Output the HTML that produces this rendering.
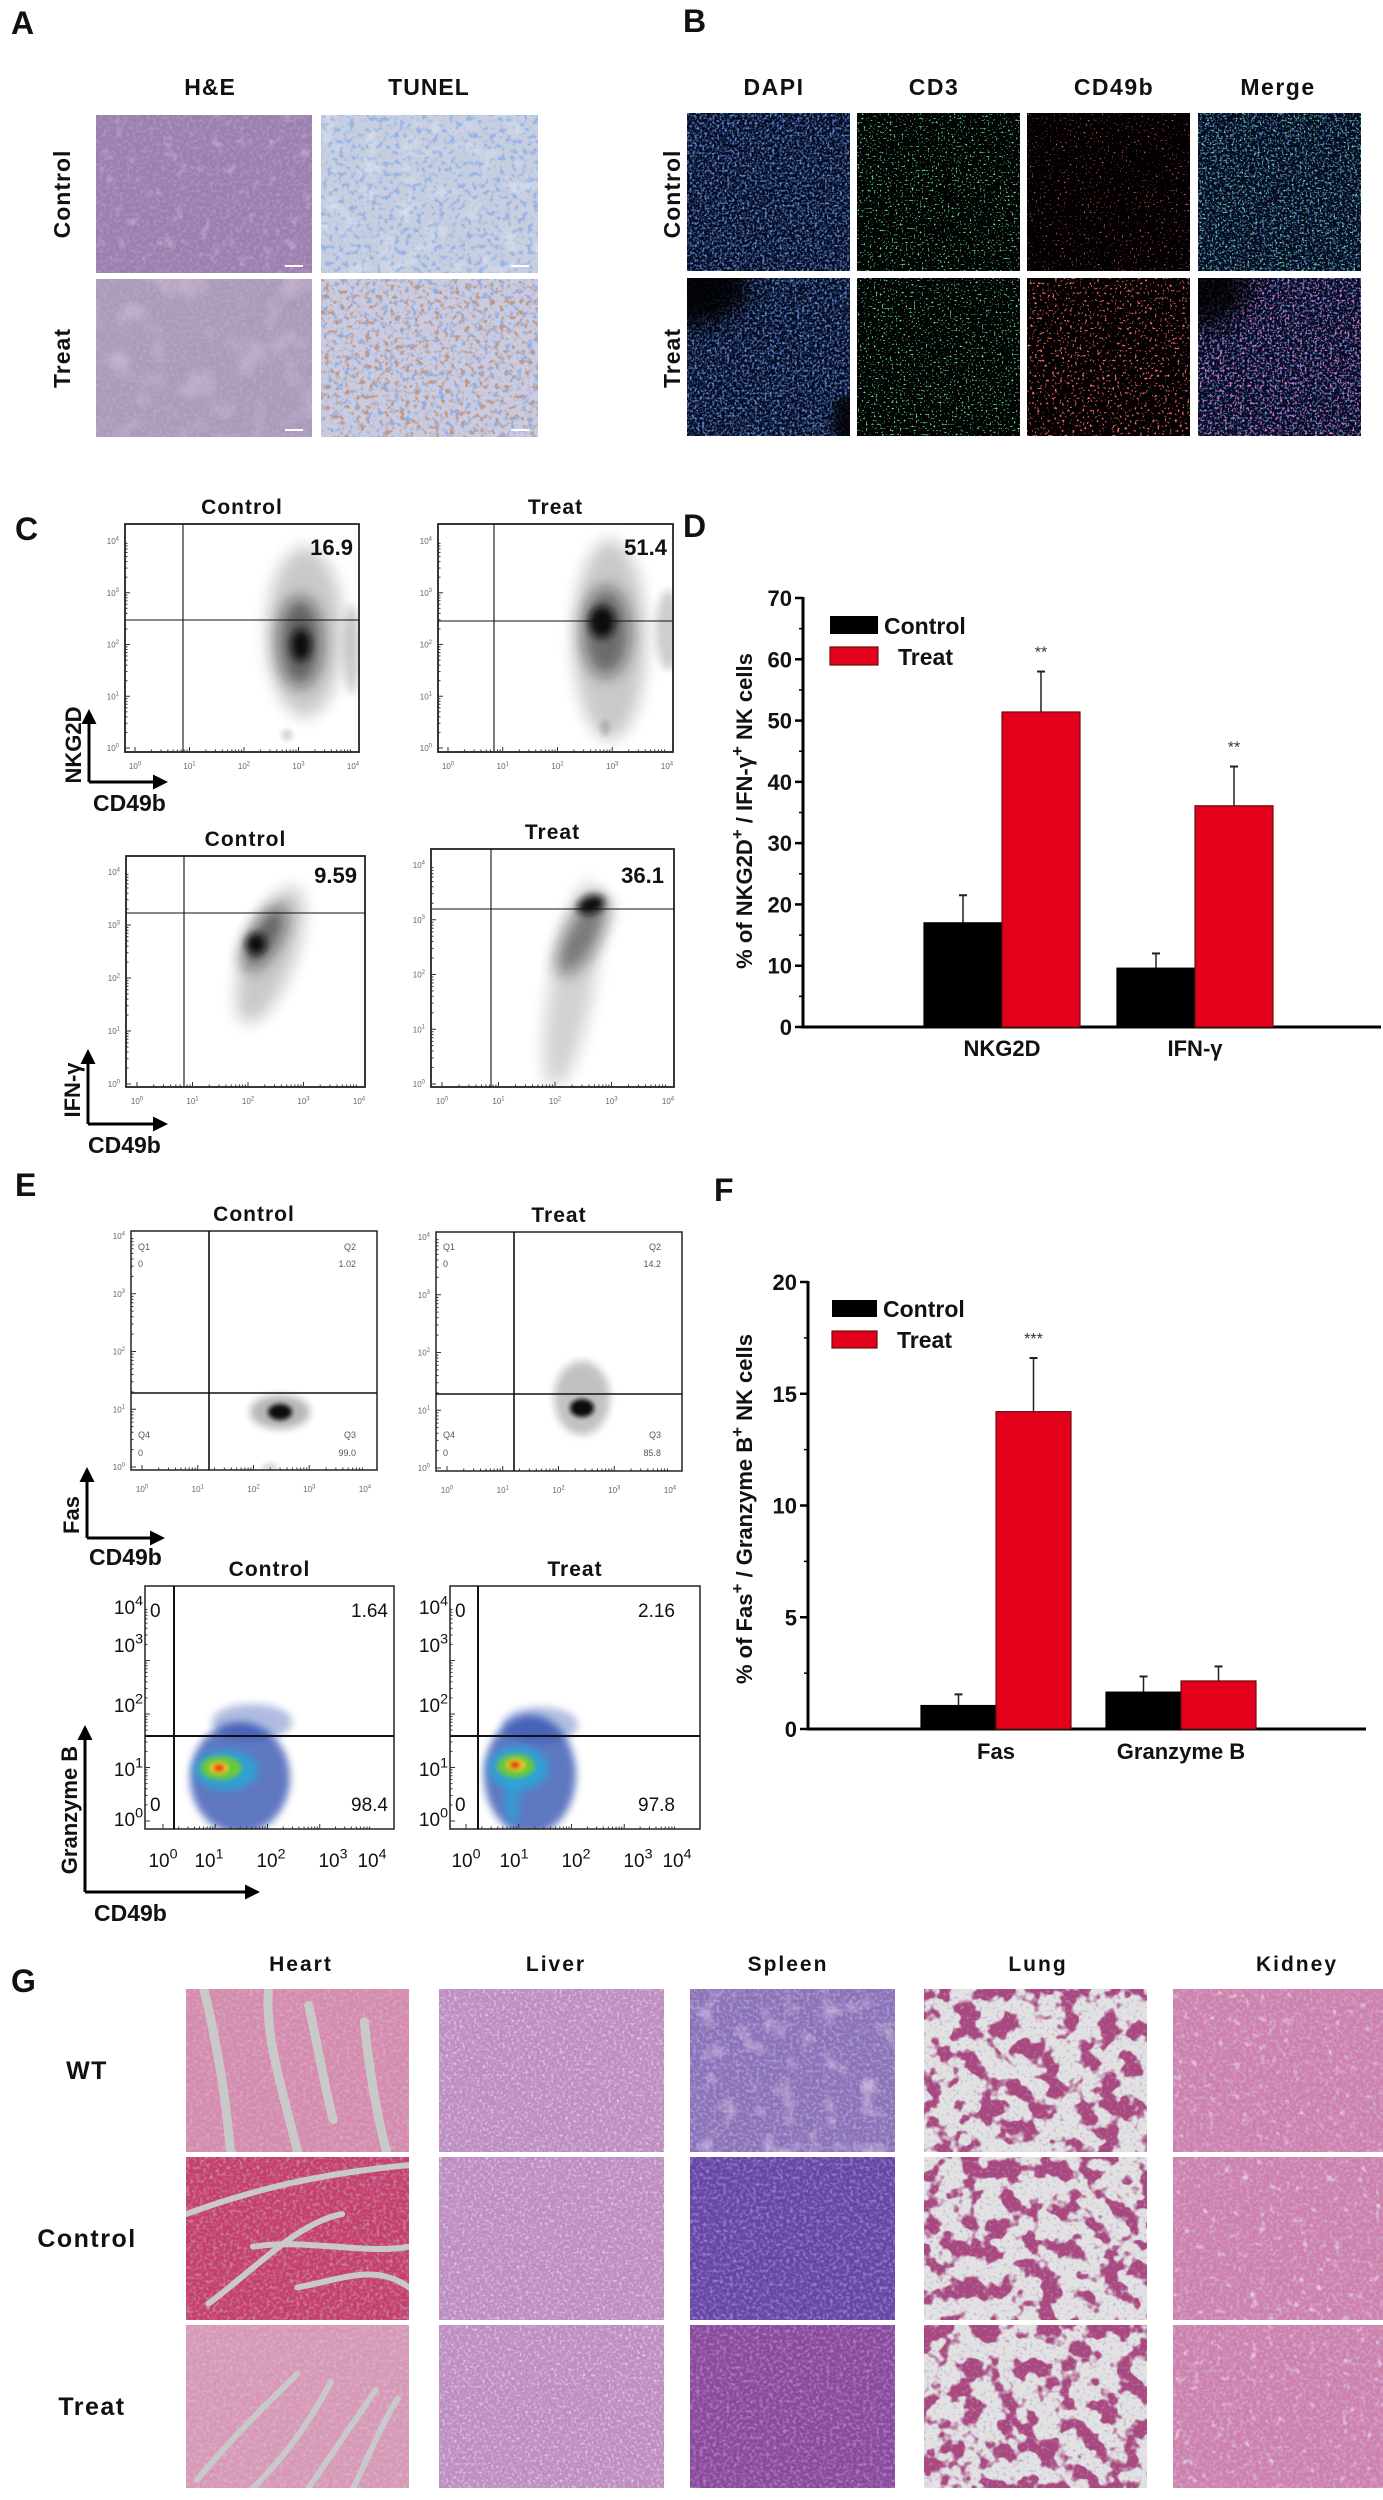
<!DOCTYPE html>
<html><head><meta charset="utf-8">
<style>
body{margin:0;background:#fff}
svg{display:block}
text{font-family:"Liberation Sans",Arial,sans-serif}
</style></head>
<body>
<svg id="fig" width="1383" height="2500" viewBox="0 0 1383 2500" xmlns="http://www.w3.org/2000/svg">
<defs id="defs">
<marker id="arr" viewBox="0 0 10 10" refX="8" refY="5" markerWidth="5" markerHeight="5" orient="auto-start-reverse"><path d="M0,0 L10,5 L0,10 z" fill="#000"/></marker>
<filter id="b2" x="-50%" y="-50%" width="200%" height="200%"><feGaussianBlur stdDeviation="2"/></filter>
<filter id="b4" x="-50%" y="-50%" width="200%" height="200%"><feGaussianBlur stdDeviation="4"/></filter>
<filter id="b8" x="-50%" y="-50%" width="200%" height="200%"><feGaussianBlur stdDeviation="8"/></filter>
<filter id="b12" x="-60%" y="-60%" width="220%" height="220%"><feGaussianBlur stdDeviation="12"/></filter>
</defs>
</svg>
<script>
// ---------- chart data: panel D ----------
const dCategories = ["NKG2D", "IFN-γ"];
const dControl = [17.0, 9.6];
const dTreat = [51.4, 36.1];
const dControlErr = [4.5, 2.4];
const dTreatErr = [6.6, 6.4];
const dSig = ["**", "**"];
const dTicks = [0, 10, 20, 30, 40, 50, 60, 70];
// ---------- chart data: panel F ----------
const fCategories = ["Fas", "Granzyme B"];
const fControl = [1.05, 1.65];
const fTreat = [14.2, 2.15];
const fControlErr = [0.5, 0.7];
const fTreatErr = [2.4, 0.65];
const fSig = ["***", ""];
const fTicks = [0, 5, 10, 15, 20];
// ---------- flow gate percentages ----------
const cTopValues = ["16.9", "51.4"];
const cBottomValues = ["9.59", "36.1"];
const eTopQ2 = ["1.02", "14.2"];
const eTopQ3 = ["99.0", "85.8"];
const eBottomUpper = ["1.64", "2.16"];
const eBottomLower = ["98.4", "97.8"];

const NS = "http://www.w3.org/2000/svg";
const svg = document.getElementById("fig");
const defs = document.getElementById("defs");
function mk(tag, attrs, parent) {
  const e = document.createElementNS(NS, tag);
  for (const k in attrs) e.setAttribute(k, attrs[k]);
  (parent || svg).appendChild(e);
  return e;
}
function txt(x, y, s, size, weight, anchor, parent, fam) {
  const t = mk("text", {x: x, y: y, "font-size": size, "font-weight": weight || "normal", "text-anchor": anchor || "start", fill: "#111"}, parent);
  if (fam) t.setAttribute("font-family", fam);
  t.textContent = s;
  return t;
}
function grp(parent) { return mk("g", {}, parent); }

// ---------- noise filters ----------
let fid = 0;
function noiseFilter(freq, r, g, b, k, off, seed, oct) {
  const id = "nz" + (fid++);
  const f = mk("filter", {id: id, x: 0, y: 0, width: 1, height: 1, filterUnits: "objectBoundingBox"}, defs);
  mk("feTurbulence", {type: "fractalNoise", baseFrequency: freq, numOctaves: oct || 2, seed: seed}, f);
  mk("feColorMatrix", {type: "matrix", values: "0 0 0 0 " + r + " 0 0 0 0 " + g + " 0 0 0 0 " + b + " " + k + " 0 0 0 " + off}, f);
  return id;
}
function layer(parent, x, y, w, h, fill, filt) {
  const r = mk("rect", {x: x, y: y, width: w, height: h}, parent);
  if (fill) r.setAttribute("fill", fill);
  if (filt) r.setAttribute("filter", "url(#" + filt + ")");
  return r;
}
const recipes = {
  heCtrl: ["#9a80ae", [[0.3, .45, .3, .55, 2.5, -1.1, 1], [0.08, .75, .65, .8, 1.5, -0.9, 2]]],
  heTreat: ["#a99cb8", [[0.3, .5, .38, .6, 2.5, -1.1, 3], [0.03, .62, .52, .7, 2, -1.0, 4]]],
  tunelCtrl: ["#c6cee0", [[0.18, .3, .45, .78, 5, -2.6, 5], [0.05, .88, .9, .95, 1.5, -0.8, 6]]],
  tunelTreat: ["#c9cce0", [[0.18, .28, .42, .78, 5, -2.7, 7], [0.2, .55, .3, .22, 5, -2.7, 8]]],
  dapi: ["#050a20", [[0.4, .12, .28, .7, 4, -2.0, 9], [0.4, .08, .2, .55, 3, -1.6, 10]]],
  cd3: ["#010201", [[0.5, .1, .8, .3, 14, -9.0, 11]]],
  cd49Ctrl: ["#020000", [[0.5, .8, .1, .1, 14, -9.6, 12]]],
  cd49Treat: ["#020000", [[0.4, .95, .15, .12, 10, -6.2, 13]]],
  mergeCtrl: ["#050a20", [[0.4, .12, .26, .65, 4, -2.1, 14], [0.5, .1, .8, .3, 14, -9.0, 15]]],
  mergeTreat: ["#050a20", [[0.4, .14, .26, .7, 4, -2.0, 16], [0.4, .95, .15, .5, 10, -6.2, 17]]],
  heartWT: ["#d68ba9", [[0.3, .65, .4, .65, 2.5, -1.1, 18]]],
  heartCtrl: ["#c63f66", [[0.3, .55, .25, .5, 2.5, -1.1, 19]]],
  heartTreat: ["#d998b2", [[0.3, .65, .45, .7, 2.5, -1.1, 20]]],
  liver: ["#c08abb", [[0.35, .5, .35, .7, 2.5, -1.1, 21], [0.35, .85, .78, .88, 2, -1.0, 22]]],
  spleenWT: ["#8a72b6", [[0.3, .45, .35, .7, 2.5, -1.1, 23], [0.05, .7, .58, .78, 2, -1.1, 24]]],
  spleenCtrl: ["#6446a6", [[0.3, .35, .22, .6, 2.5, -1.1, 25]]],
  spleenTreat: ["#884a9a", [[0.3, .45, .22, .6, 2.5, -1.1, 26]]],
  lung: ["#a8487e", [[0.05, .76, .76, .76, 10, -4.1, 27, 3], [0.3, .45, .3, .6, 2, -1.1, 28]]],
  kidney: ["#cf80a8", [[0.3, .6, .4, .7, 2.5, -1.1, 29], [0.12, .86, .8, .88, 3, -1.9, 30]]]
};
let tclip = 0;
function tissue(x, y, w, h, key, name) {
  const g = grp();
  
  
  const cid = "tc" + (tclip++);
  const cp = mk("clipPath", {id: cid}, defs);
  mk("rect", {x: x, y: y, width: w, height: h}, cp);
  g.setAttribute("clip-path", "url(#" + cid + ")");
  const rc = recipes[key];
  layer(g, x, y, w, h, rc[0]);
  rc[1].forEach(function (L) {
    const id = noiseFilter(L[0], L[1], L[2], L[3], L[4], L[5], L[6], L[7]);
    layer(g, x, y, w, h, "#000", id);
  });
  return g;
}
function streaks(g, x, y, w, h, paths, col, sw) {
  paths.forEach(function (p) {
    const d = "M" + (x + p[0] * w) + "," + (y + p[1] * h) + " C" + (x + p[2] * w) + "," + (y + p[3] * h) + " " + (x + p[4] * w) + "," + (y + p[5] * h) + " " + (x + p[6] * w) + "," + (y + p[7] * h);
    mk("path", {d: d, stroke: col, "stroke-width": sw, fill: "none", "stroke-linecap": "round"}, g);
  });
}

// ---------- Panel letters ----------
[["A", 11, 34], ["B", 683, 32], ["C", 15, 540], ["D", 683, 537], ["E", 15, 1196], ["F", 714, 1201], ["G", 11, 1992]].forEach(function (p) {
  const t = txt(p[1], p[2], p[0], 32, "bold");
  
  
});

// ---------- Panel A ----------
[["H&E", 210], ["TUNEL", 429]].forEach(function (h) {
  const t = txt(h[1], 95, h[0], 23, "bold", "middle");
  t.setAttribute("letter-spacing", "1");
  
  
});
[["Control", 194], ["Treat", 358]].forEach(function (r) {
  const t = txt(0, 0, r[0], 23, "bold", "middle");
  t.setAttribute("transform", "translate(70," + r[1] + ") rotate(-90)");
  t.setAttribute("letter-spacing", "1");
  
  
});
tissue(96, 115, 216, 158, "heCtrl", "he-control-image");
tissue(321, 115, 217, 158, "tunelCtrl", "tunel-control-image");
tissue(96, 279, 216, 158, "heTreat", "he-treat-image");
tissue(321, 279, 217, 158, "tunelTreat", "tunel-treat-image");
[[285, 266], [285, 430], [511, 266], [511, 430]].forEach(function (s) {
  const l = mk("line", {x1: s[0], y1: s[1], x2: s[0] + 18, y2: s[1], stroke: "#fff", "stroke-width": 2});
  
  
});

// ---------- Panel B ----------
const bCols = [["DAPI", 774, 687], ["CD3", 934, 857], ["CD49b", 1114, 1027], ["Merge", 1278, 1198]];
bCols.forEach(function (c) {
  const t = txt(c[1], 95, c[0], 23, "bold", "middle");
  t.setAttribute("letter-spacing", "1.5");
  
  
});
[["Control", 194], ["Treat", 358]].forEach(function (r) {
  const t = txt(0, 0, r[0], 23, "bold", "middle");
  t.setAttribute("transform", "translate(680," + r[1] + ") rotate(-90)");
  t.setAttribute("letter-spacing", "1");
  
  
});
tissue(687, 113, 163, 158, "dapi", "dapi-control-image");
tissue(857, 113, 163, 158, "cd3", "cd3-control-image");
tissue(1027, 113, 163, 158, "cd49Ctrl", "cd49b-control-image");
tissue(1198, 113, 163, 158, "mergeCtrl", "merge-control-image");
const gd = tissue(687, 278, 163, 158, "dapi", "dapi-treat-image");
mk("ellipse", {cx: 695, cy: 282, rx: 55, ry: 45, fill: "#000", filter: "url(#b12)", opacity: 0.9}, gd);
mk("ellipse", {cx: 845, cy: 420, rx: 12, ry: 25, fill: "#000", filter: "url(#b4)", opacity: 0.8}, gd);
tissue(857, 278, 163, 158, "cd3", "cd3-treat-image");
tissue(1027, 278, 163, 158, "cd49Treat", "cd49b-treat-image");
const gm = tissue(1198, 278, 163, 158, "mergeTreat", "merge-treat-image");
mk("ellipse", {cx: 1205, cy: 282, rx: 45, ry: 45, fill: "#000", filter: "url(#b12)", opacity: 0.85}, gm);

// ---------- flow plot helper ----------
let clipN = 0;
function flowPlot(o) {
  const g = grp();
  
  
  const cid = "clip" + (clipN++);
  const cp = mk("clipPath", {id: cid}, defs);
  mk("rect", {x: o.x0, y: o.y0, width: o.x1 - o.x0, height: o.y1 - o.y0}, cp);
  const bg = grp(g);
  bg.setAttribute("clip-path", "url(#" + cid + ")");
  o.blobs.forEach(function (b) {
    const e = mk("ellipse", {cx: b[0], cy: b[1], rx: b[2], ry: b[3], fill: b[5], opacity: b[6], filter: "url(#" + b[7] + ")", transform: "rotate(" + b[4] + " " + b[0] + " " + b[1] + ")"}, bg);
    
    
  });
  const fr = mk("rect", {x: o.x0, y: o.y0, width: o.x1 - o.x0, height: o.y1 - o.y0, fill: "none", stroke: "#222", "stroke-width": o.sw || 1.5}, g);
  
  
  const gv = mk("line", {x1: o.gx, y1: o.y0, x2: o.gx, y2: o.y1, stroke: "#111", "stroke-width": o.gw || 1.2}, g);
  
  
  const gh = mk("line", {x1: o.x0, y1: o.gy, x2: o.x1, y2: o.gy, stroke: "#111", "stroke-width": o.gw || 1.2}, g);
  
  
  const yd = (o.yB - o.yT) / 4, xd = (o.xR - o.xL) / 4;
  for (let d = 0; d < 4; d++) {
    for (let m = 1; m < 10; m++) {
      const f = Math.log10(m);
      const len = m === 1 ? 5 : 2.5;
      const yy = o.yB - (d + f) * yd;
      mk("line", {x1: o.x0, y1: yy, x2: o.x0 + len, y2: yy, stroke: "#333", "stroke-width": 1}, g);
      const xx = o.xL + (d + f) * xd;
      mk("line", {x1: xx, y1: o.y1, x2: xx, y2: o.y1 - len, stroke: "#333", "stroke-width": 1}, g);
    }
  }
  for (let d = 0; d <= 4; d++) {
    const ly = o.yLab ? o.yLab[d] : (o.yB - d * yd + 3);
    const t1 = txt(o.x0 - o.lo, ly, "10", o.fs, "normal", "end", g, o.fam);
    t1.setAttribute("fill", o.lc);
    const s1 = mk("tspan", {dy: -o.fs * 0.45, "font-size": o.fs * 0.75}, t1);
    s1.textContent = String(d);
    
    
    const lx = o.xLab ? o.xLab[d] : (o.xL + d * xd);
    const t2 = txt(lx, o.y1 + o.xo, "10", o.fs, "normal", "middle", g, o.fam);
    t2.setAttribute("fill", o.lc);
    const s2 = mk("tspan", {dy: -o.fs * 0.45, "font-size": o.fs * 0.75}, t2);
    s2.textContent = String(d);
    
    
  }
  const t = txt((o.x0 + o.x1) / 2, o.y0 - 10, o.title, 21, "bold", "middle", g);
  t.setAttribute("letter-spacing", "1");
  
  
  return g;
}
function gateText(g, x, y, s, size, anchor, fam, weight, col) {
  const t = txt(x, y, s, size, weight || "normal", anchor, g, fam);
  if (col) t.setAttribute("fill", col);
  
  
  return t;
}
const K = "#111";
// ---------- Panel C ----------
const cBase = {fs: 8, lc: "#666", lo: 6, xo: 17, sw: 1.8, gw: 1.1};
const c1 = flowPlot(Object.assign({}, cBase, {name: "c-nkg2d-control", title: "Control", x0: 125, y0: 524, x1: 359, y1: 752, gx: 183, gy: 620, yT: 541, yB: 748, xL: 135, xR: 353,
  blobs: [[305, 632, 38, 85, 0, K, .22, "b8"], [352, 650, 8, 45, 0, K, .2, "b4"], [300, 642, 22, 45, 0, K, .55, "b8"], [301, 645, 10, 16, 0, K, 1, "b4"], [287, 735, 6, 6, 0, K, .15, "b2"]]}));
gateText(c1, 353, 555, cTopValues[0], 22, "end", null, "bold");
const c2 = flowPlot(Object.assign({}, cBase, {name: "c-nkg2d-treat", title: "Treat", x0: 438, y0: 524, x1: 673, y1: 752, gx: 494, gy: 621, yT: 541, yB: 748, xL: 448, xR: 667,
  blobs: [[610, 640, 36, 100, 0, K, .22, "b8"], [668, 630, 12, 40, 0, K, .2, "b4"], [606, 632, 24, 45, 0, K, .5, "b8"], [602, 622, 13, 16, 0, K, 1, "b4"], [605, 728, 5, 8, 0, K, .15, "b2"]]}));
gateText(c2, 667, 555, cTopValues[1], 22, "end", null, "bold");
const c3 = flowPlot(Object.assign({}, cBase, {name: "c-ifng-control", title: "Control", x0: 126, y0: 856, x1: 365, y1: 1087, gx: 184, gy: 913, yT: 872, yB: 1084, xL: 137, xR: 359,
  blobs: [[270, 955, 25, 72, 20, K, .22, "b8"], [264, 938, 15, 36, 30, K, .55, "b8"], [256, 944, 10, 11, 0, K, 1, "b4"]]}));
gateText(c3, 357, 883, cBottomValues[0], 22, "end", null, "bold");
const c4 = flowPlot(Object.assign({}, cBase, {name: "c-ifng-treat", title: "Treat", x0: 431, y0: 849, x1: 674, y1: 1087, gx: 491, gy: 909, yT: 865, yB: 1084, xL: 442, xR: 668,
  blobs: [[572, 985, 22, 105, 10, K, .18, "b8"], [583, 935, 17, 45, 30, K, .45, "b8"], [591, 905, 14, 9, -20, K, 1, "b4"]]}));
gateText(c4, 664, 883, cBottomValues[1], 22, "end", null, "bold");

// ---------- Panel E ----------
const eBase = {fs: 8, lc: "#666", lo: 6, xo: 22, sw: 1.5, gw: 1.6};
const e1 = flowPlot(Object.assign({}, eBase, {name: "e-fas-control", title: "Control", x0: 131, y0: 1231, x1: 377, y1: 1470, gx: 209, gy: 1393, yT: 1236, yB: 1467, xL: 142, xR: 365,
  blobs: [[280, 1412, 30, 17, 0, K, .3, "b4"], [280, 1412, 12, 8, 0, K, 1, "b2"], [270, 1467, 8, 4, 0, K, .15, "b2"]]}));
const e2 = flowPlot(Object.assign({}, eBase, {name: "e-fas-treat", title: "Treat", x0: 436, y0: 1232, x1: 682, y1: 1471, gx: 514, gy: 1394, yT: 1237, yB: 1468, xL: 447, xR: 670,
  blobs: [[582, 1398, 28, 37, 0, K, .25, "b4"], [582, 1408, 12, 9, 0, K, 1, "b2"]]}));
[[e1, 138, 356, 0], [e2, 443, 661, 1]].forEach(function (p) {
  const g = p[0];
  gateText(g, p[1], 1250, "Q1", 9, "start", null, null, "#555");
  gateText(g, p[1], 1267, "0", 9, "start", null, null, "#555");
  gateText(g, p[2], 1250, "Q2", 9, "end", null, null, "#555");
  gateText(g, p[2], 1267, eTopQ2[p[3]], 9, "end", null, null, "#555");
  gateText(g, p[1], 1438, "Q4", 9, "start", null, null, "#555");
  gateText(g, p[1], 1456, "0", 9, "start", null, null, "#555");
  gateText(g, p[2], 1438, "Q3", 9, "end", null, null, "#555");
  gateText(g, p[2], 1456, eTopQ3[p[3]], 9, "end", null, null, "#555");
});
const SER = "'Liberation Serif',serif";
const eBot = {fs: 19, lc: "#111", lo: 2, xo: 38, sw: 1.5, gw: 2, fam: SER, yLab: [1826, 1776, 1712, 1652, 1614]};
const blue = "#1f3fa8";
const e3 = flowPlot(Object.assign({}, eBot, {name: "e-granzyme-control", title: "Control", x0: 145, y0: 1586, x1: 394, y1: 1829, gx: 174, gy: 1736, yT: 1607, yB: 1821, xL: 163, xR: 372, xLab: [163, 209, 271, 333, 372],
  blobs: [[240, 1778, 50, 56, 0, blue, .7, "b4"], [252, 1722, 40, 18, 0, blue, .35, "b4"], [226, 1770, 32, 20, 0, "#2aa6d8", .9, "b4"], [221, 1768, 21, 12, 0, "#6cc83c", .95, "b2"], [219, 1768, 10, 6, 0, "#f0d020", 1, "b2"], [219, 1768, 5, 3, 0, "#e02010", 1, "b2"]]}));
const e4 = flowPlot(Object.assign({}, eBot, {name: "e-granzyme-treat", title: "Treat", x0: 450, y0: 1586, x1: 700, y1: 1829, gx: 478, gy: 1736, yT: 1607, yB: 1821, xL: 466, xR: 677, xLab: [466, 514, 576, 638, 677],
  blobs: [[530, 1775, 46, 60, 0, blue, .7, "b4"], [540, 1725, 38, 18, 0, blue, .35, "b4"], [518, 1768, 30, 22, 0, "#2aa6d8", .9, "b4"], [512, 1800, 8, 25, 0, "#2aa6d8", .7, "b4"], [516, 1766, 19, 12, 0, "#6cc83c", .95, "b2"], [516, 1765, 10, 6, 0, "#f0d020", 1, "b2"], [515, 1765, 5, 3, 0, "#e02010", 1, "b2"]]}));
[[e3, 150, 388, 0], [e4, 455, 675, 1]].forEach(function (p) {
  gateText(p[0], p[1], 1617, "0", 19, "start", SER);
  gateText(p[0], p[2], 1617, eBottomUpper[p[3]], 19, "end", SER);
  gateText(p[0], p[1], 1811, "0", 19, "start", SER);
  gateText(p[0], p[2], 1811, eBottomLower[p[3]], 19, "end", SER);
});

// ---------- axis indicators ----------
function indicator(x, yb, yt, xr, yName, yc, xName, xb, xs) {
  const g = grp();
  
  
  mk("line", {x1: x, y1: yb, x2: x, y2: yt, stroke: "#000", "stroke-width": 3, "marker-end": "url(#arr)"}, g);
  mk("line", {x1: x, y1: yb, x2: xr, y2: yb, stroke: "#000", "stroke-width": 3, "marker-end": "url(#arr)"}, g);
  const t = txt(0, 0, yName, 22, "bold", "middle", g);
  t.setAttribute("transform", "translate(" + (x - 8) + "," + yc + ") rotate(-90)");
  
  
  const t2 = txt(xs, xb, xName, 23, "bold", "start", g);
  
  
}
indicator(89, 782, 712, 165, "NKG2D", 745, "CD49b", 811, 93);
indicator(88, 1124, 1052, 165, "IFN-γ", 1090, "CD49b", 1153, 88);
indicator(87, 1538, 1470, 162, "Fas", 1515, "CD49b", 1565, 89);
indicator(85, 1892, 1728, 257, "Granzyme B", 1810, "CD49b", 1921, 94);

// ---------- bar charts ----------
function barChart(cfg, cats, ctrl, treat, ctrlErr, treatErr, sig, ticks) {
  const g = grp();
  
  
  const ymax = ticks[ticks.length - 1];
  const yScale = function (v) { return cfg.y0 - (v / ymax) * (cfg.y0 - cfg.yTop); };
  const xCenter = function (i) { return cfg.c0 + i * cfg.step; };
  const ya = mk("line", {x1: cfg.ax, y1: cfg.y0, x2: cfg.ax, y2: cfg.yTop - 1, stroke: "#000", "stroke-width": 3}, g);
  
  
  const xa = mk("line", {x1: cfg.ax - 1.5, y1: cfg.y0, x2: cfg.xEnd, y2: cfg.y0, stroke: "#000", "stroke-width": 3}, g);
  
  
  ticks.forEach(function (v, i) {
    const y = yScale(v);
    const tk = mk("line", {x1: cfg.ax - 8, y1: y, x2: cfg.ax, y2: y, stroke: "#000", "stroke-width": 2.5}, g);
    
    
    if (i < ticks.length - 1) {
      const ym = yScale((v + ticks[i + 1]) / 2);
      const mt = mk("line", {x1: cfg.ax - 4, y1: ym, x2: cfg.ax, y2: ym, stroke: "#000", "stroke-width": 1.5}, g);
      
      
    }
    const tl = txt(cfg.ax - 11, y + 8, String(v), 22, "bold", "end", g);
    
    
  });
  cats.forEach(function (c, i) {
    const cx = xCenter(i);
    const series = [[ctrl[i], ctrlErr[i], cx - cfg.bw, "#000", "#000"], [treat[i], treatErr[i], cx, "#e3001b", "#6b1010"]];
    series.forEach(function (s, j) {
      const top = yScale(s[0]);
      const ex = s[2] + cfg.bw / 2;
      const et = yScale(s[0] + s[1]);
      const eb = mk("line", {x1: ex, y1: top, x2: ex, y2: et, stroke: "#222", "stroke-width": 1.5}, g);
      
      
      const cap = mk("line", {x1: ex - 4, y1: et, x2: ex + 4, y2: et, stroke: "#222", "stroke-width": 2}, g);
      
      
      const r = mk("rect", {x: s[2], y: top, width: cfg.bw, height: cfg.y0 - top, fill: s[3], stroke: s[4], "stroke-width": 1.2}, g);
      
      
      if (j === 1 && sig[i]) {
        const st = txt(ex, et - 14, sig[i], 16, "normal", "middle", g);
        st.setAttribute("fill", "#333");
        
        
      }
    });
    const cl = txt(cx, cfg.catY, c, 22, "bold", "middle", g);
    
    
  });
  const lg = grp(g);
  
  
  const l1 = mk("rect", {x: cfg.lx, y: cfg.ly, width: cfg.lw, height: cfg.lh, fill: "#000"}, lg);
  
  
  const l2 = mk("rect", {x: cfg.lx, y: cfg.ly2, width: cfg.lw, height: cfg.lh, fill: "#e3001b", stroke: "#6b1010", "stroke-width": 1.2}, lg);
  
  
  const lt1 = txt(cfg.lx + cfg.lw + 6, cfg.ly + cfg.lh, "Control", 23, "bold", "start", lg);
  
  
  const lt2 = txt(cfg.lx + cfg.lw + 20, cfg.ly2 + cfg.lh, "Treat", 23, "bold", "start", lg);
  
  
  const yt = mk("text", {"font-size": 22, "font-weight": "bold", "text-anchor": "middle", fill: "#111", transform: "translate(" + cfg.tx + "," + cfg.ty + ") rotate(-90)"}, g);
  cfg.title.forEach(function (part) {
    const sp = mk("tspan", {}, yt);
    if (part[1]) { sp.setAttribute("baseline-shift", "super"); sp.setAttribute("font-size", 17); }
    sp.textContent = part[0];
  });
  
  
}
barChart({name: "d-bar-chart", ax: 803, y0: 1027, yTop: 598, xEnd: 1381, c0: 1002, step: 193, bw: 78, catY: 1056,
  lx: 830, ly: 616, ly2: 647, lw: 48, lh: 18, tx: 752, ty: 811,
  title: [["% of NKG2D", 0], ["+", 1], [" / IFN-γ", 0], ["+", 1], [" NK cells", 0]]},
  dCategories, dControl, dTreat, dControlErr, dTreatErr, dSig, dTicks);
barChart({name: "f-bar-chart", ax: 808, y0: 1729, yTop: 1282, xEnd: 1366, c0: 996, step: 185, bw: 75, catY: 1759,
  lx: 832, ly: 1300, ly2: 1331, lw: 45, lh: 17, tx: 752, ty: 1509,
  title: [["% of Fas", 0], ["+", 1], [" / Granzyme B", 0], ["+", 1], [" NK cells", 0]]},
  fCategories, fControl, fTreat, fControlErr, fTreatErr, fSig, fTicks);

// ---------- Panel G ----------
const gCols = [["Heart", 301, 186, 223], ["Liver", 556, 439, 225], ["Spleen", 788, 690, 205], ["Lung", 1038, 924, 223], ["Kidney", 1297, 1173, 210]];
const gRows = [["WT", 1989, 87], ["Control", 2157, 87], ["Treat", 2325, 92]];
gCols.forEach(function (c) {
  const t = txt(c[1], 1971, c[0], 21, "bold", "middle");
  t.setAttribute("letter-spacing", "2");
  
  
});
gRows.forEach(function (r) {
  const t = txt(r[2], r[1] + 90, r[0], 25, "bold", "middle");
  t.setAttribute("letter-spacing", "1.5");
  
  
});
const H = 163;
const keys = [["heartWT", "heartCtrl", "heartTreat"], ["liver", "liver", "liver"], ["spleenWT", "spleenCtrl", "spleenTreat"], ["lung", "lung", "lung"], ["kidney", "kidney", "kidney"]];
const streakSets = [
  [[.08, 0, .15, .4, .18, .7, .2, 1], [.37, 0, .35, .3, .45, .7, .5, 1], [.8, .2, .82, .5, .86, .8, .9, 1], [.55, .1, .6, .4, .62, .6, .66, .8]],
  [[0, .35, .3, .2, .6, .1, 1, .05], [.1, .9, .3, .7, .5, .4, .7, .35], [.3, .55, .55, .5, .8, .6, 1, .55], [.5, .8, .7, .75, .85, .65, 1, .8]],
  [[.05, .95, .2, .7, .35, .5, .5, .3], [.3, 1, .45, .8, .55, .6, .65, .35], [.55, 1, .65, .8, .75, .6, .85, .4], [.75, 1, .82, .8, .88, .6, .95, .45]]
];
gCols.forEach(function (c, ci) {
  gRows.forEach(function (r, ri) {
    const g = tissue(c[2], r[1], c[3], H, keys[ci][ri], c[0].toLowerCase() + "-" + r[0].toLowerCase() + "-image");
    if (ci === 0) streaks(g, c[2], r[1], c[3], H, streakSets[ri], "#c9c9c9", ri === 0 ? 9 : 6);
  });
});
</script>
</body></html>
